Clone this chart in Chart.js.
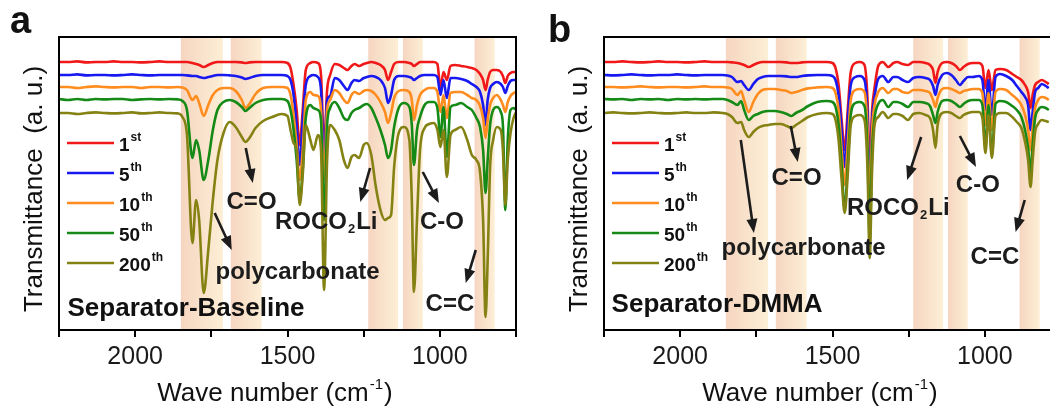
<!DOCTYPE html>
<html>
<head>
<meta charset="utf-8">
<script src="https://cdn.jsdelivr.net/npm/chart.js@4.4.1/dist/chart.umd.min.js"></script>
<style>
body{margin:0;width:1050px;height:413px;overflow:hidden;background:#fff;position:relative;}
.panel{position:absolute;top:0;width:525px;height:413px;}
</style>
</head>
<body>
<div class="panel" style="left:0"><canvas id="chartA" width="525" height="413"></canvas></div>
<div class="panel" style="left:545px"><canvas id="chartB" width="525" height="413"></canvas></div>
<script>
// cycle labels and colours
const cycles = ['1', '5', '10', '50', '200'];
const cycleSup = ['st', 'th', 'th', 'th', 'th'];
const colors = ['#f01818', '#1818f0', '#ff8c1e', '#168a16', '#858214'];
// shaded bands (cm-1)
const bands = [[1850, 1712], [1686, 1585], [1235, 1137], [1121, 1056], [886, 820]];

// panel a : Separator-Baseline
const waveA = [2250,2220,2190,2160,2130,2100,2070,2040,2010,1980,1950,1920,1890,1860,
  1845,1830,1812,1800,1790,1775,1760,1745,1730,1710,
  1690,1670,1650,1638,1625,1605,1580,1550,1520,1500,
  1490,1480,1470,1460,1450,1440,1425,1415,1400,1390,
  1380,1370,1360,1345,1330,1315,1303,1290,1280,1265,
  1250,1240,1225,1210,1195,1180,1170,1160,1150,1135,
  1118,1100,1092,1085,1075,1065,1050,1035,1020,1008,
  998,988,977,965,950,930,910,895,880,868,
  858,850,843,835,825,813,800,793,785,777,
  768,758,750];
const a1st = [134,134,134.3,133.8,134,134,134.3,134,134,133.8,134,134.3,134,134,
  134,134,133.5,133,132.5,131.5,132.5,133.5,134,134,
  134,134,133.8,133.5,133.8,134,134,134,134,133.5,
  131,122.5,110,92.5,110,130,133.5,134,133.5,127.5,
  90,120,127.5,133,132.5,131,130,132,133,132,
  133,133.5,134,133.5,132.5,130,125,129,133,134,
  134,133.5,133,132,133,134,134,134,134,133,
  121,129,125,132,132.5,132,131.5,131,130,128,
  125,120,125,129,130,130,129,127,123.5,127,
  128.5,129,129];
const a5th = [127.5,127.5,127.8,127.3,127.5,127.5,127.3,127.5,127.8,127.5,127.3,127.5,127.5,127.5,
  127.5,127.3,127,127,126.5,126,126.5,127,127.5,127.5,
  127.3,127,126.3,125.5,126,127,127.5,127.5,127.5,127,
  125,117.5,102.5,82.5,105,122.5,127,127.5,126.5,120,
  82.5,115,117,126,125,122,120,123.5,125,124.5,
  126,126.5,127,126.5,125,121,113.5,117.5,125,127,
  127,126.5,126,125,126,127,127.5,127.5,127.5,126.5,
  117.5,125,116,126,126,125.5,124.5,123,121.5,119,
  112.5,102.5,115,121,123,124,123,121.5,118.5,122,
  124.5,125,125];
const a10th = [121.5,121.5,121,121.5,121.8,121.5,121.3,121.5,121.5,121,121.5,121.5,121.3,121.5,
  121.3,120,115,117,113.5,107,112.5,117.5,120,121,
  121,119.5,115,111,113,118,121,121.5,121.5,121,
  117.5,107.5,92.5,75,90,115,119,117.5,117,110,
  75,110,115,120,118.5,115,113.5,117.5,119,118,
  119.5,120,119.5,117.5,114,109,103.5,108.5,116,119.5,
  120,119,115,105,112.5,117.5,120,121,121,119,
  109,117.5,106,118.5,119,119,117.5,116,115,112,
  106,96,105,112.5,116,117.5,115,112.5,109,114,
  117,118.5,119];
const a50th = [115.5,115,115.5,115,115.5,115.3,115.5,115.5,115,115.3,115.5,115.3,115.5,115.3,
  114.5,110,86,95,90,75,85,100,110,114,
  115,114,111.5,109.5,111,113.5,115,115.5,115.5,114.5,
  110,100,85,65,80,106,112.5,111,110,105,
  55,102.5,111,114,111,106,105,108.5,110,111,
  112.5,113,111,106,100,92.5,86,90,101.5,111,
  113.5,111.5,102.5,82.5,100,106.5,112.5,114,114,111,
  96.5,111.5,86.5,111.5,112.5,113.5,111.5,110,106,101.5,
  90,68.5,85,102.5,110,111.5,109,102.5,60,95,
  110,111,110];
const a200th = [108.5,108.5,108,108.5,108.8,108.5,108.3,108.5,108.8,108.3,108.5,108.8,108.5,108.3,
  106.5,97.5,43.5,65,55,18.5,40,65,85,98.5,
  104,101.5,96.5,94,96,101,104.5,106.5,108,107,
  100,93.5,90,62.5,77.5,102.5,95,90,97.5,90,
  20,85,102.5,100,95,85,81,86.5,87.5,86,
  92.5,93.5,87.5,71.5,60,55,56,57.5,81.5,98.5,
  101.5,95,65,19,55,90,101,103,103.5,100,
  91.5,100,76.5,97.5,100,101.5,95,87.5,85,79,
  55,6.5,35,81.5,95,101.5,100,90,62.5,85,
  98.5,106,109];

// panel b : Separator-DMMA
const waveB = [2250,2220,2190,2160,2130,2100,2070,2040,2010,1980,1950,1920,1890,1860,
  1845,1830,1812,1800,1790,1775,1760,1745,1730,1710,
  1690,1670,1650,1635,1620,1600,1580,1550,1520,1500,
  1490,1480,1470,1460,1450,1440,1425,1410,1395,1385,
  1378,1370,1362,1350,1335,1317,1300,1288,1270,1252,
  1235,1215,1195,1180,1170,1162,1155,1140,1125,1110,
  1095,1082,1070,1055,1040,1020,1008,998,988,977,
  965,950,930,910,895,880,868,858,850,843,
  835,825,813,800,790];
const b1st = [134,134,134.3,134,133.8,134,134.3,134,134,133.8,134,134.3,134,134,
  134,133.8,133.5,133,132.5,131.5,132.5,133.5,134,134,
  134,134,133.8,133.5,133.5,133.8,134,134,134,133.5,
  131,122.5,105,90,110,129,133.5,134,132.5,115,
  80,110,121,132,134,131.5,133.5,134,133,132.5,
  134,134,133.5,132.5,130,123.5,129,133.5,134,133.5,
  132,130,131.5,133,133.5,133.5,132,121,130,120,
  130,130.5,130,128,126.5,125,122.5,119,111,117.5,
  122.5,124,125,124,123];
const b5th = [127.5,127.3,127.5,127.8,127.5,127.3,127.5,127.5,127.8,127.5,127.3,127.5,127.5,127.5,
  127.3,126.5,124,124.5,122.5,120,123,125.5,126.5,127,
  127,127,126.8,126.5,126.5,127,127.3,127.5,127.5,127,
  125,117.5,100,81.5,105,122.5,126.5,127,125,107.5,
  70,105,116.5,125.5,127,124,126.5,126.5,125,124,
  126,126.5,126,125,122,117.5,122.5,127.5,128.5,127.5,
  125,122.5,124.5,126.5,126.5,127,125,110,125,107.5,
  126.5,128,127,125,122,119,116.5,112.5,100,109,
  119,121,123,122,121];
const b10th = [121.5,121.5,121.3,121.5,121.8,121.5,121.3,121.5,121.5,121.3,121.5,121.8,121.5,121.5,
  121.3,120.5,117.5,119.5,115,109,114,118,120,120.5,
  120.5,120,119.5,118.5,119,120,120.8,121.3,121.5,121,
  118.5,110,90,72.5,92.5,115,120,120.5,119,100,
  60,100,112.5,119,121,118.5,120.5,120.5,119,118.5,
  120,120,119.5,118.5,115,111.5,116,120.5,121,120.5,
  119.5,118.5,119.5,120,120.5,120.5,118.5,102.5,118.5,100,
  119,120.5,120,117.5,115.5,112.5,107.5,100,90,101,
  111,115,116.5,116,115];
const b50th = [115.5,115.3,115.5,115,115.5,115.3,115.5,115,115.5,115.3,115.5,115.3,115.5,115.5,
  115,114,112.5,114.5,110,105,107,108,109,109.5,
  109.5,109,108,107,108.5,110,112,114,114.5,114,
  111.5,102.5,82.5,60,82.5,107.5,113.5,114,112,90,
  45,90,106,113,115,111.5,114,114,113,111.5,
  114,114,113.5,112,107.5,103.5,109,114.5,115,114.5,
  113,111.5,113,114.5,115,115,112.5,91,112.5,87.5,
  113,114.5,114,112,110,106.5,100,91,79,92.5,
  106,110,111.5,111,110];
const b200th = [108.5,108.8,108.5,108.3,108.5,108.8,108.5,108.3,108.5,108.8,108.5,108.5,108.8,108.5,
  108,106.5,103.5,104,100,96.5,99,101,102,102.5,
  103,103,102,101,102.5,104.5,106.5,108,108.5,108,
  105,95,75,58.5,77.5,102.5,107,107.5,105,80,
  36,80,102.5,106.5,109,106,108,108,107,105,
  108,108.5,107.5,106,100,91,102.5,108.5,109,108.5,
  107,106,107.5,108.5,109,109,106,88.5,107.5,86,
  107,108.5,108.5,106.5,104,101,94,85,71.5,85,
  99,103,105,104.5,104];

// labels: [wave number, a.u.]
const notesA = [
  {text: 'C=O', x: 1618, y: 64},
  {text: 'polycarbonate', x: 1467, y: 29},
  {text: 'ROCO', sub: '2', after: 'Li', x: 1373, y: 54},
  {text: 'C-O', x: 993, y: 54},
  {text: 'C=C', x: 967, y: 13}
];
const arrowsA = [[1637, 91, 1614, 73.5], [1739, 58.5, 1683, 40], [1229, 81, 1261, 64], [1056, 79, 1003, 63.5], [882, 40, 915, 23.5]];
const notesB = [
  {text: 'polycarbonate', x: 1595, y: 41},
  {text: 'C=O', x: 1618, y: 76},
  {text: 'ROCO', sub: '2', after: 'Li', x: 1284, y: 61},
  {text: 'C-O', x: 1023, y: 72.5},
  {text: 'C=C', x: 967, y: 36.5}
];
const arrowsB = [[1801, 95, 1758, 48.5], [1637, 102, 1614, 84], [1209, 96.5, 1255, 75], [1082, 97, 1029, 81.5], [869, 65, 899, 49]];

const FONT = '"Liberation Sans", Arial, Helvetica, sans-serif';
const INK = '#1c1c1c';

function drawArrow(ctx, x1, y1, x2, y2){
	const ang = Math.atan2(y2 - y1, x2 - x1);
	const hl = 14, hw = 5.5;
	ctx.beginPath();
	ctx.moveTo(x1, y1);
	ctx.lineTo(x2 - hl * 0.8 * Math.cos(ang), y2 - hl * 0.8 * Math.sin(ang));
	ctx.lineWidth = 2.6;
	ctx.stroke();
	ctx.beginPath();
	ctx.moveTo(x2, y2);
	ctx.lineTo(x2 - hl * Math.cos(ang) + hw * Math.sin(ang), y2 - hl * Math.sin(ang) - hw * Math.cos(ang));
	ctx.lineTo(x2 - hl * Math.cos(ang) - hw * Math.sin(ang), y2 - hl * Math.sin(ang) + hw * Math.cos(ang));
	ctx.closePath();
	ctx.fill();
}

function drawNote(ctx, n, px, py){
	ctx.textBaseline = 'middle';
	ctx.textAlign = 'left';
	const big = 'bold 24px ' + FONT, small = 'bold 13px ' + FONT;
	ctx.font = big;
	let w = ctx.measureText(n.text).width;
	let wSub = 0, wAfter = 0;
	if(n.sub){
		ctx.font = small; wSub = ctx.measureText(n.sub).width + 2;
		ctx.font = big; wAfter = ctx.measureText(n.after).width;
	}
	let x = px - (w + wSub + wAfter) / 2;
	ctx.fillText(n.text, x, py);
	if(n.sub){
		ctx.font = small; ctx.fillText(n.sub, x + w + 1, py + 7);
		ctx.font = big; ctx.fillText(n.after, x + w + wSub, py);
	}
}

function makeChart(id, wave, series, opt){
	const datasets = series.map((vals, i) => ({
		label: cycles[i] + cycleSup[i],
		data: wave.map((w, j) => ({x: w, y: vals[j]})),
		borderColor: colors[i],
		borderWidth: 2.6,
		pointRadius: 0,
		fill: false,
		cubicInterpolationMode: 'monotone',
		order: 5 - i
	}));

	const decor = {
		id: 'decor',
		beforeDatasetsDraw(chart){
			const ctx = chart.ctx, a = chart.chartArea, xs = chart.scales.x;
			ctx.save();
			bands.forEach(b => {
				const x1 = xs.getPixelForValue(b[0]), x2 = xs.getPixelForValue(b[1]);
				const g = ctx.createLinearGradient(x1, 0, x2, 0);
				g.addColorStop(0, 'rgba(244,206,182,0.85)');
				g.addColorStop(1, 'rgba(252,236,206,0.85)');
				ctx.fillStyle = g;
				ctx.fillRect(x1, a.top, x2 - x1, a.bottom - a.top);
			});
			ctx.restore();
		},
		afterDatasetsDraw(chart){
			const ctx = chart.ctx, a = chart.chartArea, xs = chart.scales.x, ys = chart.scales.y;
			ctx.save();
			// frame
			ctx.strokeStyle = '#000';
			ctx.lineWidth = 2;
			ctx.strokeRect(a.left, a.top, a.right - a.left, a.bottom - a.top);

			ctx.fillStyle = INK;
			ctx.strokeStyle = INK;
			opt.arrows.forEach(r => drawArrow(ctx, xs.getPixelForValue(r[0]), ys.getPixelForValue(r[1]), xs.getPixelForValue(r[2]), ys.getPixelForValue(r[3])));
			opt.notes.forEach(n => drawNote(ctx, n, xs.getPixelForValue(n.x), ys.getPixelForValue(n.y)));

			// sample name
			ctx.font = 'bold 26px ' + FONT;
			ctx.textAlign = 'left';
			ctx.textBaseline = 'middle';
			ctx.fillStyle = '#111';
			ctx.fillText(opt.sample[0], xs.getPixelForValue(opt.sample[1]), ys.getPixelForValue(opt.sample[2]));

			// legend
			for(let i = 0; i < cycles.length; i++){
				const y = a.top + 106 + 30 * i;
				ctx.strokeStyle = colors[i];
				ctx.lineWidth = 2.6;
				ctx.beginPath();
				ctx.moveTo(a.left + 8, y);
				ctx.lineTo(a.left + 55, y);
				ctx.stroke();
				ctx.fillStyle = '#111';
				ctx.textBaseline = 'alphabetic';
				ctx.font = 'bold 19px ' + FONT;
				ctx.fillText(cycles[i], a.left + 60, y + 8);
				const w = ctx.measureText(cycles[i]).width;
				ctx.font = 'bold 12px ' + FONT;
				ctx.fillText(cycleSup[i], a.left + 61 + w, y - 2);
			}

			// axis titles
			ctx.fillStyle = '#111';
			ctx.font = '26px ' + FONT;
			ctx.textBaseline = 'middle';
			ctx.textAlign = 'center';
			ctx.save();
			ctx.translate(a.left - 24, 189);
			ctx.rotate(-Math.PI / 2);
			ctx.fillText('Transmittance  (a. u.)', 0, 0);
			ctx.restore();

			ctx.textAlign = 'left';
			ctx.textBaseline = 'alphabetic';
			const t1 = 'Wave number (cm', t2 = '-1', t3 = ')';
			ctx.font = '26px ' + FONT;
			const w1 = ctx.measureText(t1).width, w3 = ctx.measureText(t3).width;
			ctx.font = '15px ' + FONT;
			const w2 = ctx.measureText(t2).width;
			let x0 = a.left + 216 - (w1 + w2 + w3 + 2) / 2;
			ctx.font = '26px ' + FONT;
			ctx.fillText(t1, x0, 401);
			ctx.font = '15px ' + FONT;
			ctx.fillText(t2, x0 + w1 + 1, 389);
			ctx.font = '26px ' + FONT;
			ctx.fillText(t3, x0 + w1 + w2 + 2, 401);

			// panel letter
			ctx.font = 'bold 38px ' + FONT;
			ctx.fillText(opt.letter[0], opt.letter[1], opt.letter[2]);
			ctx.restore();
		}
	};

	return new Chart(document.getElementById(id), {
		type: 'line',
		data: {datasets: datasets},
		options: {
			responsive: false,
			animation: false,
			layout: {padding: {left: 59, right: 9, top: 37, bottom: 0}},
			plugins: {legend: {display: false}, tooltip: {enabled: false}},
			scales: {
				x: {
					type: 'linear',
					reverse: true,
					min: 750,
					max: 2250,
					afterFit(scale){ scale.height = 83; },
					border: {display: true, color: '#000', width: 2},
					grid: {drawOnChartArea: false, drawTicks: true, tickLength: 7, color: '#000', lineWidth: 2},
					ticks: {
						stepSize: 250,
						autoSkip: false,
						maxRotation: 0,
						padding: 5,
						color: '#1a1a1a',
						font: {family: FONT, size: 25},
						callback: v => (v % 500 === 0 ? String(v) : '')
					}
				},
				y: {type: 'linear', min: 0, max: 146.5, display: false}
			}
		},
		plugins: [decor]
	});
}

makeChart('chartA', waveA, [a1st, a5th, a10th, a50th, a200th], {
	notes: notesA, arrows: arrowsA,
	sample: ['Separator-Baseline', 2222, 10.5],
	letter: ['a', 10, 33]
});
makeChart('chartB', waveB, [b1st, b5th, b10th, b50th, b200th], {
	notes: notesB, arrows: arrowsB,
	sample: ['Separator-DMMA', 2225, 12.5],
	letter: ['b', 3, 42]
});
</script>
</body>
</html>
